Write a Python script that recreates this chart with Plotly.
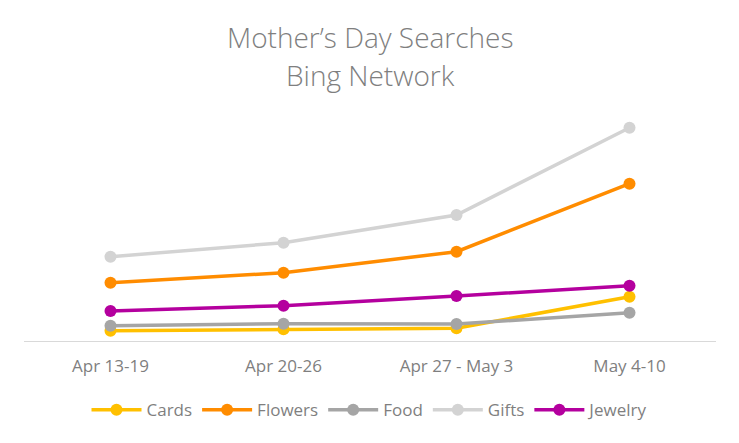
import plotly.graph_objects as go

weeks = ["Apr 13-19", "Apr 20-26", "Apr 27 - May 3", "May 4-10"]
cards = [10.3, 11.7, 12.7, 44.3]
flowers = [58.3, 68.3, 89.3, 157.3]
food = [15.3, 17.3, 17.0, 28.3]
gifts = [84.3, 98.3, 126.0, 213.3]
jewelry = [30.0, 35.3, 45.0, 55.3]

series = [
    ("Cards", cards, "#FFC000"),
    ("Flowers", flowers, "#FF8C00"),
    ("Food", food, "#A5A5A5"),
    ("Gifts", gifts, "#D3D3D3"),
    ("Jewelry", jewelry, "#B4009E"),
]

fig = go.Figure()
for name, vals, color in series:
    fig.add_trace(go.Scatter(
        x=weeks, y=vals, name=name, mode="lines+markers",
        line=dict(color=color, width=3.5),
        marker=dict(color=color, size=12),
    ))

FONT = "Open Sans, Segoe UI, sans-serif"
title_font = dict(family=FONT, size=28, color="#7F7F7F", weight=300)
fig.add_annotation(text="Mother’s Day Searches", xref="paper", yref="paper",
                   x=0.5, xanchor="center", y=1.0, yshift=73, yanchor="middle",
                   showarrow=False, font=title_font)
fig.add_annotation(text="Bing Network", xref="paper", yref="paper",
                   x=0.5, xanchor="center", y=1.0, yshift=35, yanchor="middle",
                   showarrow=False, font=title_font)

fig.update_layout(
    width=731, height=435, autosize=False,
    paper_bgcolor="white", plot_bgcolor="white",
    margin=dict(l=16, r=23, t=102, b=102, autoexpand=False),
    xaxis=dict(
        range=[-0.5, 3.5],
        showline=True, linecolor="#D9D9D9", linewidth=1,
        showgrid=False, zeroline=False, ticks="",
        tickfont=dict(family=FONT, size=17, color="#7F7F7F"),
        ticklabelstandoff=10,
    ),
    yaxis=dict(
        visible=False, range=[0, 231], showgrid=False, zeroline=False,
    ),
    showlegend=True,
    legend=dict(
        orientation="h", x=0.5, xanchor="center", y=-0.3, yanchor="middle",
        font=dict(family=FONT, size=17, color="#7F7F7F"),
        itemwidth=50,
    ),
)

fig.write_html("out.html")
